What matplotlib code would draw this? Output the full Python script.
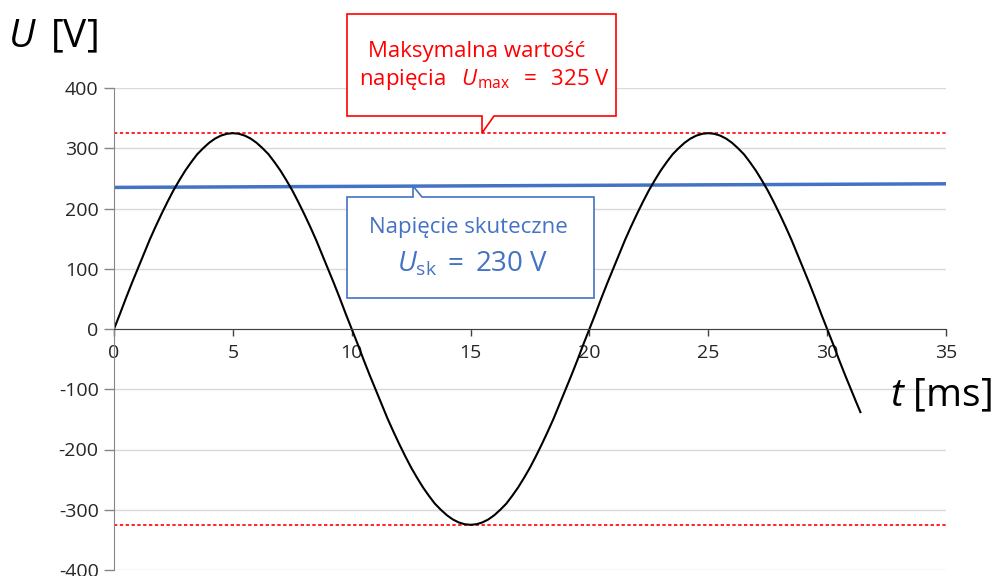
import matplotlib.pyplot as plt
import matplotlib.patches as mpatches

plt.rcParams['font.family'] = ['Open Sans', 'DejaVu Sans']
plt.rcParams['mathtext.fontset'] = 'custom'
plt.rcParams['mathtext.rm'] = 'Open Sans'
plt.rcParams['mathtext.it'] = 'Open Sans:italic'

# przebieg napiecia, co 0.25 ms
czas = [i * 0.25 for i in range(126)] + [31.4]
napiecie = [0, 25, 51, 76, 100, 124, 148, 170, 191, 211,
            230, 247, 263, 277, 290, 300, 309, 316, 321, 324,
            325, 324, 321, 316, 309, 300, 290, 277, 263, 247,
            230, 211, 191, 170, 148, 124, 100, 76, 51, 25,
            0, -25, -51, -76, -100, -124, -148, -170, -191, -211,
            -230, -247, -263, -277, -290, -300, -309, -316, -321, -324,
            -325, -324, -321, -316, -309, -300, -290, -277, -263, -247,
            -230, -211, -191, -170, -148, -124, -100, -76, -51, -25,
            0, 25, 51, 76, 100, 124, 148, 170, 191, 211,
            230, 247, 263, 277, 290, 300, 309, 316, 321, 324,
            325, 324, 321, 316, 309, 300, 290, 277, 263, 247,
            230, 211, 191, 170, 148, 124, 100, 76, 51, 25,
            0, -25, -51, -76, -100, -124, -138]

# linie pomocnicze
umax_x = [0, 35]
umax_gora = [325, 325]
umax_dol = [-325, -325]
usk_x = [0, 35]
usk_y = [235, 241]

x_ticks = [0, 5, 10, 15, 20, 25, 30, 35]
y_ticks = [-400, -300, -200, -100, 0, 100, 200, 300, 400]

W, H = 996, 576
fig = plt.figure(figsize=(W / 100, H / 100), dpi=100)
ax = fig.add_axes([114 / W, (H - 570) / H, (946 - 114) / W, (570 - 88) / H])

ax.set_xlim(0, 35)
ax.set_ylim(-400, 400)
ax.set_xticks(x_ticks)
ax.set_yticks(y_ticks)
ax.set_yticklabels([str(v) for v in y_ticks])

ax.grid(axis='y', color='#d9d9d9', lw=1)
ax.set_axisbelow(True)
for s in ['top', 'right']:
    ax.spines[s].set_visible(False)
ax.spines['left'].set_color('#868686')
ax.spines['bottom'].set_position(('data', 0))
ax.spines['bottom'].set_color('#404040')
ax.tick_params(axis='y', colors='#868686', labelcolor='#262626', labelsize=14,
               length=7, width=1, pad=4)
ax.tick_params(axis='x', colors='#404040', labelcolor='#262626', labelsize=14,
               length=5, width=1, pad=6)
for lab in ax.get_xticklabels():
    lab.set_clip_on(False)

ax.plot(umax_x, umax_gora, color='red', lw=1.2, ls=(0, (2, 1.5)))
ax.plot(umax_x, umax_dol, color='red', lw=1.2, ls=(0, (2, 1.5)))
ax.plot(usk_x, usk_y, color='#4472c4', lw=2.5)
ax.plot(czas, napiecie, color='black', lw=1.5)


def px(x, y):
    return (x / W, 1 - y / H)


# dymek czerwony
red_pts = [(347, 14), (616, 14), (616, 116), (494, 116), (482, 133), (482, 116), (347, 116)]
fig.patches.append(mpatches.Polygon([px(*p) for p in red_pts], closed=True,
                                    transform=fig.transFigure, facecolor='white',
                                    edgecolor='red', lw=1.2, zorder=5))
fig.text(*px(477, 52), 'Maksymalna wartość', color='red', fontsize=16,
         ha='center', va='center', zorder=6)
fig.text(*px(484, 80), r'napięcia $\;\;U_{\mathrm{max}}\;\;=\;\;325\;\mathrm{V}$', color='red',
         fontsize=16, ha='center', va='center', zorder=6)

# dymek niebieski
blue_pts = [(347, 197), (413, 197), (413, 186), (422, 197), (594, 197), (594, 298), (347, 298)]
fig.patches.append(mpatches.Polygon([px(*p) for p in blue_pts], closed=True,
                                    transform=fig.transFigure, facecolor='white',
                                    edgecolor='#4472c4', lw=1.2, zorder=5))
fig.text(*px(468, 227), 'Napięcie skuteczne', color='#4472c4', fontsize=16,
         ha='center', va='center', zorder=6)
fig.text(*px(472, 264), r'$U_{\mathrm{sk}}\;=\;230\;\mathrm{V}$', color='#4472c4',
         fontsize=20, ha='center', va='center', zorder=6)

# opisy osi
fig.text(*px(8, 37), r'$U\,$ [V]', fontsize=28, ha='left', va='center')
fig.text(*px(890, 396), r'$t$ [ms]', fontsize=28, ha='left', va='center')

fig.savefig('out.png', dpi=100)
